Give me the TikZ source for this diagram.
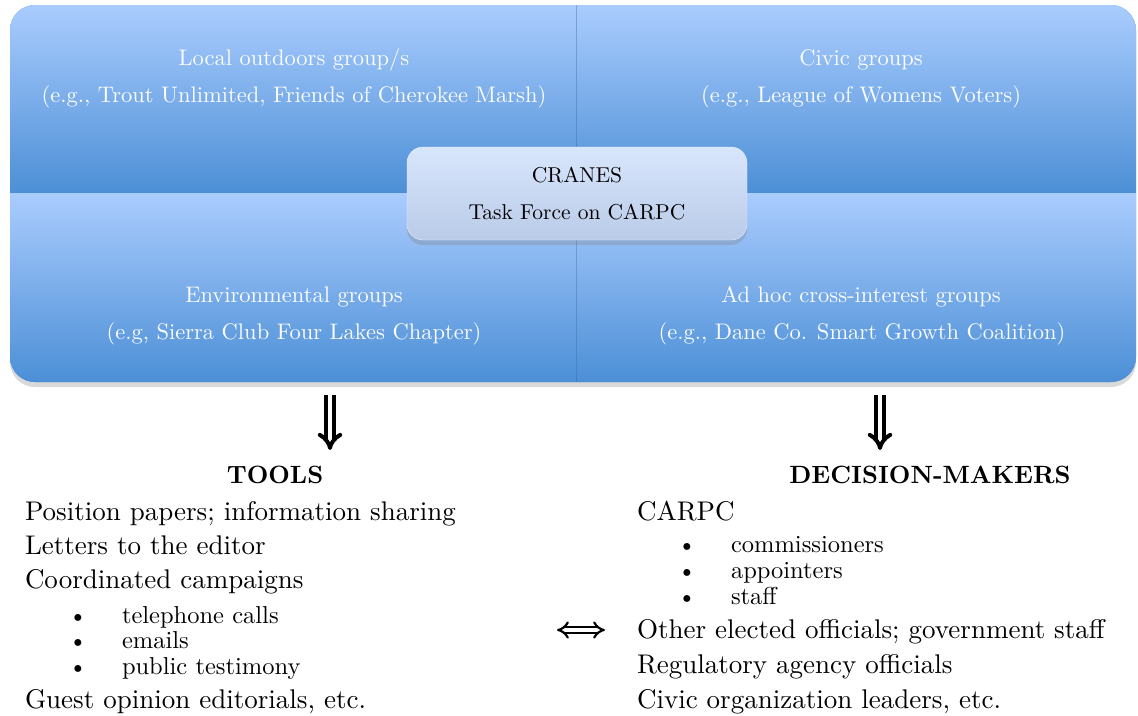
\documentclass[tikz,border=0pt]{standalone}
\usepackage{fontspec}
\setmainfont{lmroman10}[Extension=.otf,UprightFont=*-regular,BoldFont=*-bold,ItalicFont=*-italic]
\usetikzlibrary{positioning,arrows.meta,shadows}
\definecolor{quadtop}{HTML}{AACCFE}
\definecolor{quadbot}{HTML}{4C8FD6}
\definecolor{hubtop}{HTML}{D8E6FC}
\definecolor{hubbot}{HTML}{BACBE8}
\definecolor{grouptext}{HTML}{FAFCFF}
\tikzset{
    every node/.style={inner sep=0pt,outer sep=0pt},
    quad/.style={rectangle,top color=quadtop,bottom color=quadbot,minimum height=188pt},
    divider/.style={draw=quadbot!75!black,line width=1pt,opacity=.4},
    grouptxt/.style={text=grouptext,font=\fontsize{22.5}{27}\selectfont,anchor=base},
    hub/.style={rectangle,rounded corners=16pt,top color=hubtop,bottom color=hubbot,draw=hubtop!60!white,
        minimum width=340pt,minimum height=93pt,align=center,font=\fontsize{21.5}{37}\selectfont,
        drop shadow={shadow xshift=0pt,shadow yshift=-5pt,opacity=.3}},
    heading/.style={font=\fontsize{25}{30}\selectfont\bfseries,anchor=base},
    entry/.style={font=\fontsize{27}{32}\selectfont,anchor=base west},
    subentry/.style={font=\fontsize{24.5}{28}\selectfont,anchor=base west},
    dot/.style={font=\fontsize{24}{28}\selectfont,anchor=base},
    implies/.style={double,double distance=3.7pt,line width=4pt,-{Implies}},
    twoway/.style={double,double distance=3.5pt,line width=2.2pt,{Implies}-{Implies}}
}
\begin{document}
\begin{tikzpicture}[x=1pt,y=-1pt]
\useasboundingbox (0,0) rectangle (1138,715);
% the four groups
\path[rounded corners=25pt,fill=quadbot,drop shadow={shadow xshift=0pt,shadow yshift=-5pt,opacity=.3}]
    (10,5) rectangle (1136,382);
\begin{scope}
\clip[rounded corners=25pt] (10,5) rectangle (1136,382);
\node[quad,minimum width=566pt] (outdoor) at (293,99) {};
\node[quad,minimum width=560pt] (civic) at (856,99) {};
\node[quad,minimum width=566pt,minimum height=189pt] (enviro) at (293,287.5) {};
\node[quad,minimum width=560pt,minimum height=189pt] (adhoc) at (856,287.5) {};
\draw[divider] (outdoor.north east) -- (enviro.south east);
\end{scope}
\node[grouptxt] (outdoorhead) at (294,65) {Local outdoors group/s};
\node[grouptxt] (outdoornote) at (294,102) {(e.g., Trout Unlimited, Friends of Cherokee Marsh)};
\node[grouptxt] (civichead) at (861,65) {Civic groups};
\node[grouptxt] (civicnote) at (861,102) {(e.g., League of Womens Voters)};
\node[grouptxt] (envirohead) at (294,302) {Environmental groups};
\node[grouptxt] (environote) at (294,339) {(e.g, Sierra Club Four Lakes Chapter)};
\node[grouptxt] (adhochead) at (861,302) {Ad hoc cross-interest groups};
\node[grouptxt] (adhocnote) at (862,339) {(e.g., Dane Co. Smart Growth Coalition)};
% task force in the middle
\node[hub] (cranes) at (577,193.5) {CRANES\\Task Force on CARPC};
% arrows down
\coordinate (toolsfrom) at (330,395);
\coordinate (toolsto) at (330,450);
\coordinate (makersfrom) at (880,395);
\coordinate (makersto) at (880,450);
\draw[implies] (toolsfrom) -- (toolsto);
\draw[implies] (makersfrom) -- (makersto);
% tools
\node[heading] (tools) at (275,483) {TOOLS};
\foreach \txt/\yy [count=\i] in {Position papers; information sharing/520,Letters to the editor/554,
    Coordinated campaigns/588,{Guest opinion editorials, etc.}/708}
  \node[entry] (tool\i) at (25,\yy) {\txt};
\foreach \txt/\yy [count=\i] in {telephone calls/623,emails/648,public testimony/674}{
  \node[dot] (tooldot\i) at (78,\yy) {\textbullet};
  \node[subentry] (campaign\i) at (122,\yy) {\txt};
}
% decision-makers
\node[heading] (makers) at (930,483) {DECISION-MAKERS};
\foreach \txt/\yy [count=\i] in {CARPC/520,Other elected officials; government staff/638,
    Regulatory agency officials/673,{Civic organization leaders, etc.}/708}
  \node[entry] (maker\i) at (637,\yy) {\txt};
\foreach \txt/\yy [count=\i] in {commissioners/552,appointers/578,staff/604}{
  \node[dot] (makerdot\i) at (687,\yy) {\textbullet};
  \node[subentry] (carpc\i) at (731,\yy) {\txt};
}
\coordinate (linkleft) at (557,630);
\coordinate (linkright) at (605,630);
\draw[twoway] (linkleft) -- (linkright);
\end{tikzpicture}
\end{document}
